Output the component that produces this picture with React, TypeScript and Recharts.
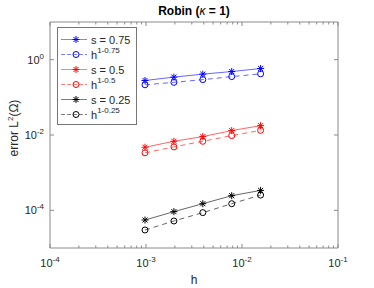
import { LineChart, Line, XAxis, YAxis, Legend } from 'recharts'

// mesh sizes h = 2^-10 ... 2^-6
const hValues = [0.0009765625, 0.001953125, 0.00390625, 0.0078125, 0.015625]

// errors
const errS075 = [0.28, 0.344, 0.413, 0.484, 0.582]
const refS075 = [0.215, 0.25, 0.295, 0.355, 0.42]
const errS050 = [0.00473, 0.00681, 0.00908, 0.0131, 0.0177]
const refS050 = [0.00336, 0.00484, 0.00681, 0.00964, 0.0133]
const errS025 = [5.53e-5, 9.24e-5, 1.5e-4, 2.45e-4, 3.38e-4]
const refS025 = [3.01e-5, 5.21e-5, 8.69e-5, 1.5e-4, 2.54e-4]

const xMajorTicks = [1e-4, 1e-3, 1e-2, 1e-1]
const xMinorTicks = [
  2e-4, 3e-4, 4e-4, 5e-4, 6e-4, 7e-4, 8e-4, 9e-4,
  2e-3, 3e-3, 4e-3, 5e-3, 6e-3, 7e-3, 8e-3, 9e-3,
  2e-2, 3e-2, 4e-2, 5e-2, 6e-2, 7e-2, 8e-2, 9e-2,
]
const xTickExps = ['-4', '-3', '-2', '-1']
const yMajorTicks = [1e-4, 1e-2, 1]
const yTickExps = ['-4', '-2', '0']

const X_DOMAIN = [1e-4, 1e-1]
const Y_DOMAIN = [1e-5, 10]

const series = [
  { key: 'errS075', label: 's = 0.75', sup: '', color: '#0000ff', marker: 'star', dashed: false, values: errS075 },
  { key: 'refS075', label: 'h', sup: '1-0.75', color: '#0000ff', marker: 'circle', dashed: true, values: refS075 },
  { key: 'errS050', label: 's = 0.5', sup: '', color: '#ff0000', marker: 'star', dashed: false, values: errS050 },
  { key: 'refS050', label: 'h', sup: '1-0.5', color: '#ff0000', marker: 'circle', dashed: true, values: refS050 },
  { key: 'errS025', label: 's = 0.25', sup: '', color: '#000000', marker: 'star', dashed: false, values: errS025 },
  { key: 'refS025', label: 'h', sup: '1-0.25', color: '#000000', marker: 'circle', dashed: true, values: refS025 },
]

const data = hValues.map((h, i) => {
  const row: Record<string, number> = { h }
  series.forEach(s => { row[s.key] = s.values[i] })
  return row
})

const FONT = "'Liberation Sans', Arial, Helvetica, sans-serif"
const AXIS = '#8a8a8a'
const TEXT = '#262626'
const DASH = '5 4'

function Star({ cx, cy, color }: { cx: number; cy: number; color: string }) {
  const r = 3.5
  const d = r * 0.72
  return (
    <g stroke={color} strokeWidth={1}>
      <line x1={cx - r} x2={cx + r} y1={cy} y2={cy} />
      <line x1={cx} x2={cx} y1={cy - r} y2={cy + r} />
      <line x1={cx - d} x2={cx + d} y1={cy - d} y2={cy + d} />
      <line x1={cx - d} x2={cx + d} y1={cy + d} y2={cy - d} />
    </g>
  )
}

function Marker({ cx, cy, color, marker }: { cx: number; cy: number; color: string; marker: string }) {
  if (marker === 'star') return <Star cx={cx} cy={cy} color={color} />
  return <circle cx={cx} cy={cy} r={3} fill="none" stroke={color} strokeWidth={1} />
}

function BottomTick(props: any) {
  const { x, y, payload } = props
  const idx = xMajorTicks.indexOf(payload.value)
  const major = idx >= 0
  return (
    <g>
      <line x1={x} x2={x} y1={y} y2={y - (major ? 4 : 2.5)} stroke={AXIS} />
      {major && (
        <text x={x} y={y + 19} textAnchor="middle" fill={TEXT} fontSize={11} fontFamily={FONT}>
          <tspan>10</tspan>
          <tspan dy={-5} fontSize={8}>{xTickExps[idx]}</tspan>
        </text>
      )}
    </g>
  )
}

function TopTick(props: any) {
  const { x, y, payload } = props
  const major = xMajorTicks.includes(payload.value)
  return <line x1={x} x2={x} y1={y} y2={y + (major ? 4 : 2.5)} stroke={AXIS} />
}

function LeftTick(props: any) {
  const { x, y, payload } = props
  const idx = yMajorTicks.indexOf(payload.value)
  return (
    <g>
      <line x1={x} x2={x + 4} y1={y} y2={y} stroke={AXIS} />
      <text x={x - 6} y={y + 4} textAnchor="end" fill={TEXT} fontSize={11} fontFamily={FONT}>
        <tspan>10</tspan>
        <tspan dy={-5} fontSize={8}>{yTickExps[idx]}</tspan>
      </text>
    </g>
  )
}

function RightTick(props: any) {
  const { x, y } = props
  return <line x1={x} x2={x - 4} y1={y} y2={y} stroke={AXIS} />
}

function LegendBox() {
  return (
    <svg width={80} height={98} style={{ display: 'block' }}>
      <rect x={0.5} y={0.5} width={79} height={97} fill="#fff" stroke="#777" />
      {series.map((s, i) => {
        const cy = 12.5 + i * 15
        return (
          <g key={s.key}>
            <line x1={4} x2={30} y1={cy} y2={cy} stroke={s.color} strokeOpacity={0.5}
              strokeDasharray={s.dashed ? '4 2' : undefined} />
            <Marker cx={19} cy={cy} color={s.color} marker={s.marker} />
            <text x={34} y={cy + 4} fill={TEXT} fontSize={11} fontFamily={FONT}>
              <tspan>{s.label}</tspan>
              {s.sup && <tspan dy={-6} fontSize={8}>{s.sup}</tspan>}
            </text>
          </g>
        )
      })}
    </svg>
  )
}

export default function App() {
  return (
    <div style={{ position: 'relative', width: 374, height: 288, background: '#fff', fontFamily: FONT }}>
      <style>{'body{margin:0}'}</style>
      <LineChart width={374} height={288} data={data} margin={{ top: 21, right: 35, bottom: 39, left: 49 }}>
        <XAxis dataKey="h" type="number" scale="log" domain={X_DOMAIN} allowDataOverflow
          ticks={[...xMajorTicks, ...xMinorTicks]} interval={0} height={1}
          tickSize={0} tickMargin={0} tickLine={false} tick={<BottomTick />}
          axisLine={{ stroke: AXIS }} />
        <XAxis xAxisId="top" orientation="top" dataKey="h" type="number" scale="log" domain={X_DOMAIN} allowDataOverflow
          ticks={[...xMajorTicks, ...xMinorTicks]} interval={0} height={1}
          tickSize={0} tickMargin={0} tickLine={false} tick={<TopTick />}
          axisLine={{ stroke: AXIS }} />
        <YAxis type="number" scale="log" domain={Y_DOMAIN} allowDataOverflow
          ticks={yMajorTicks} interval={0} width={1}
          tickSize={0} tickMargin={0} tickLine={false} tick={<LeftTick />}
          axisLine={{ stroke: AXIS }} />
        <YAxis yAxisId="right" orientation="right" type="number" scale="log" domain={Y_DOMAIN} allowDataOverflow
          ticks={yMajorTicks} interval={0} width={1}
          tickSize={0} tickMargin={0} tickLine={false} tick={<RightTick />}
          axisLine={{ stroke: AXIS }} />
        {series.map(s => (
          <Line key={s.key} dataKey={s.key} name={s.key} stroke={s.color} strokeOpacity={0.6} strokeWidth={1}
            strokeDasharray={s.dashed ? DASH : undefined}
            dot={(p: any) => <Marker key={`${s.key}-${p.index}`} cx={p.cx} cy={p.cy} color={s.color} marker={s.marker} />}
            activeDot={false} isAnimationActive={false} />
        ))}
        <Legend layout="vertical" align="center" verticalAlign="middle"
          wrapperStyle={{ left: 57, top: 27, width: 80, height: 98 }}
          content={() => <LegendBox />} />
      </LineChart>
      <svg width={374} height={288} style={{ position: 'absolute', left: 0, top: 0, pointerEvents: 'none' }}>
        <text x={194} y={15} textAnchor="middle" fontSize={12} fontWeight="bold" fill="#000" fontFamily={FONT}>
          <tspan>Robin (</tspan>
          <tspan fontWeight="normal" fontStyle="italic">κ</tspan>
          <tspan> = 1)</tspan>
        </text>
        <text x={194} y={284} textAnchor="middle" fontSize={12} fill={TEXT} fontFamily={FONT}>h</text>
        <text transform="translate(18,128) rotate(-90)" textAnchor="middle" fontSize={12} fill={TEXT} fontFamily={FONT}>
          <tspan>error L</tspan>
          <tspan dy={-5} fontSize={8}>2</tspan>
          <tspan dy={5}>(Ω)</tspan>
        </text>
      </svg>
    </div>
  )
}
